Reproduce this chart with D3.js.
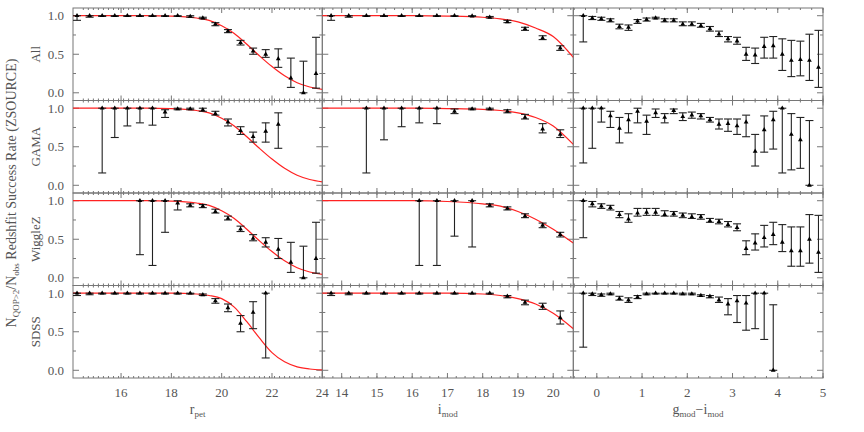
<!DOCTYPE html>
<html><head><meta charset="utf-8">
<script src="https://cdn.jsdelivr.net/npm/d3@7"></script>
<style>body{margin:0;background:#fff}text{font-family:"Liberation Serif",serif;fill:#555}</style>
</head><body><svg id="c" width="864" height="432"></svg>
<script>
const rows = ["All","GAMA","WiggleZ","SDSS"];
const xTitles = [["r","pet"],["i","mod"],["g","mod","−i","mod"]];
const xTicks = [[16,18,20,22,24],[14,15,16,17,18,19,20],[0,1,2,3,4,5]];
const yTicks = [0,0.5,1.0];
const xDomains = [[14.09,24],[13.45,20.57],[-0.52,5.0]];

// points: [x, y, lo, hi]
const rAll = [[14.25,1,0.94,1],[14.75,1,0.98,1],[15.25,1,0.99,1],[15.75,1,0.99,1],[16.25,1,0.99,1],[16.75,1,0.99,1],[17.25,1,0.99,1],[17.75,1,0.99,1],[18.25,1,0.99,1],[18.75,0.99,0.98,1],[19.25,0.97,0.96,0.98],[19.75,0.89,0.87,0.91],[20.25,0.80,0.78,0.82],[20.75,0.65,0.62,0.68],[21.25,0.54,0.50,0.58],[21.75,0.50,0.46,0.56],[22.25,0.44,0.33,0.57],[22.75,0.19,0.07,0.45],[23.25,0.0,0.0,0.41],[23.75,0.25,0.06,0.72]];
const rGama = [[15.25,1,0.16,1],[15.75,1,0.62,1],[16.25,1,0.77,1],[16.75,1,0.81,1],[17.25,1,0.78,1],[17.75,0.95,0.88,0.98],[18.25,0.99,0.98,1],[18.75,0.99,0.98,1],[19.25,0.98,0.96,1],[19.75,0.93,0.91,0.96],[20.25,0.82,0.77,0.86],[20.75,0.71,0.66,0.76],[21.25,0.63,0.56,0.69],[21.75,0.70,0.56,0.81],[22.25,0.79,0.48,0.94]];
const rWig = [[16.75,1,0.30,1],[17.25,1,0.16,1],[17.75,1,0.59,1],[18.25,0.97,0.88,1],[18.75,0.94,0.92,0.96],[19.25,0.93,0.91,0.95],[19.75,0.86,0.84,0.89],[20.25,0.77,0.75,0.80],[20.75,0.63,0.60,0.67],[21.25,0.51,0.48,0.56],[21.75,0.46,0.40,0.52],[22.25,0.37,0.25,0.51],[22.75,0.20,0.07,0.46],[23.25,0.0,0.0,0.41],[23.75,0.25,0.06,0.72]];
const rSdss = [[14.25,1,0.97,1],[14.75,1,0.98,1],[15.25,1,0.99,1],[15.75,1,0.99,1],[16.25,1,0.99,1],[16.75,1,0.99,1],[17.25,1,0.99,1],[17.75,1,0.99,1],[18.25,1,0.99,1],[18.75,1,0.99,1],[19.25,0.98,0.97,0.99],[19.75,0.90,0.87,0.93],[20.25,0.81,0.76,0.86],[20.75,0.61,0.50,0.71],[21.25,0.75,0.54,0.89],[21.75,1,0.16,1]];

const iAll = [[13.7,1,0.94,1],[14.2,1,0.98,1],[14.7,1,0.99,1],[15.2,1,0.99,1],[15.7,1,0.99,1],[16.2,1,0.99,1],[16.7,1,0.99,1],[17.2,1,0.99,1],[17.7,0.995,0.99,1],[18.2,0.98,0.97,0.99],[18.7,0.92,0.91,0.94],[19.2,0.83,0.81,0.85],[19.7,0.71,0.69,0.74],[20.2,0.58,0.55,0.61]];
const iGama = [[14.7,1,0.16,1],[15.2,1,0.59,1],[15.7,1,0.76,1],[16.2,1,0.81,1],[16.7,1,0.80,1],[17.2,0.96,0.93,0.99],[17.7,0.99,0.98,1],[18.2,0.99,0.98,1],[18.7,0.96,0.94,0.98],[19.2,0.88,0.86,0.92],[19.7,0.73,0.68,0.80],[20.2,0.66,0.62,0.72]];
const iWig = [[16.2,1,0.16,1],[16.7,1,0.16,1],[17.2,1,0.54,1],[17.7,1,0.40,1],[18.2,0.94,0.92,0.96],[18.7,0.90,0.88,0.92],[19.2,0.80,0.78,0.83],[19.7,0.68,0.65,0.71],[20.2,0.56,0.53,0.59]];
const iSdss = [[13.7,1,0.97,1],[14.2,1,0.98,1],[14.7,1,0.99,1],[15.2,1,0.99,1],[15.7,1,0.99,1],[16.2,1,0.99,1],[16.7,1,0.99,1],[17.2,1,0.99,1],[17.7,1,0.99,1],[18.2,1,0.99,1],[18.7,0.96,0.94,0.97],[19.2,0.88,0.85,0.91],[19.7,0.83,0.79,0.87],[20.2,0.68,0.60,0.77]];

const gAll = [[-0.3,1,0.66,1],[-0.1,0.97,0.95,0.99],[0.1,0.96,0.94,0.98],[0.3,0.94,0.92,0.96],[0.5,0.86,0.83,0.89],[0.7,0.85,0.81,0.88],[0.9,0.93,0.90,0.95],[1.1,0.95,0.93,0.97],[1.3,0.97,0.96,0.98],[1.5,0.94,0.92,0.96],[1.7,0.94,0.92,0.96],[1.9,0.89,0.87,0.92],[2.1,0.89,0.87,0.92],[2.3,0.87,0.85,0.90],[2.5,0.83,0.80,0.86],[2.7,0.76,0.73,0.80],[2.9,0.70,0.66,0.73],[3.1,0.67,0.63,0.72],[3.3,0.50,0.42,0.59],[3.5,0.49,0.38,0.58],[3.7,0.60,0.45,0.72],[3.9,0.61,0.45,0.73],[4.1,0.50,0.29,0.70],[4.3,0.42,0.21,0.68],[4.5,0.43,0.22,0.67],[4.7,0.42,0.16,0.76],[4.9,0.33,0.07,0.81]];
const gGama = [[-0.3,1,0.29,1],[-0.1,1,0.48,1],[0.1,1,0.82,1],[0.3,0.90,0.75,0.96],[0.5,0.74,0.55,0.88],[0.7,0.85,0.68,0.93],[0.9,0.96,0.81,1],[1.1,0.83,0.66,0.91],[1.3,0.94,0.88,0.99],[1.5,0.88,0.81,0.93],[1.7,0.97,0.93,0.99],[1.9,0.89,0.84,0.94],[2.1,0.91,0.87,0.95],[2.3,0.90,0.86,0.93],[2.5,0.85,0.82,0.88],[2.7,0.79,0.73,0.86],[2.9,0.80,0.70,0.86],[3.1,0.77,0.66,0.86],[3.3,0.82,0.63,0.91],[3.5,0.44,0.25,0.66],[3.7,0.72,0.43,0.90],[3.9,0.85,0.47,0.96],[4.1,1,0.16,1],[4.3,0.66,0.20,0.93],[4.5,0.59,0.22,0.88],[4.7,0.0,0.0,0.84]];
const gWig = [[-0.3,1,0.52,1],[-0.1,0.96,0.92,0.99],[0.1,0.93,0.90,0.96],[0.3,0.91,0.88,0.94],[0.5,0.82,0.78,0.86],[0.7,0.76,0.72,0.83],[0.9,0.84,0.80,0.90],[1.1,0.85,0.81,0.90],[1.3,0.85,0.81,0.90],[1.5,0.82,0.80,0.87],[1.7,0.83,0.80,0.86],[1.9,0.81,0.78,0.84],[2.1,0.79,0.77,0.83],[2.3,0.79,0.76,0.82],[2.5,0.74,0.72,0.77],[2.7,0.73,0.70,0.76],[2.9,0.69,0.66,0.73],[3.1,0.65,0.61,0.70],[3.3,0.38,0.30,0.48],[3.5,0.45,0.36,0.57],[3.7,0.52,0.40,0.68],[3.9,0.56,0.43,0.72],[4.1,0.46,0.34,0.69],[4.3,0.35,0.15,0.66],[4.5,0.35,0.15,0.66],[4.7,0.50,0.19,0.82],[4.9,0.33,0.07,0.81]];
const gSdss = [[-0.3,1,0.30,1],[-0.1,0.99,0.97,1],[0.1,0.98,0.96,0.99],[0.3,0.99,0.98,1],[0.5,0.93,0.91,0.96],[0.7,0.91,0.88,0.94],[0.9,0.95,0.93,0.97],[1.1,0.99,0.98,1],[1.3,1,0.99,1],[1.5,1,0.99,1],[1.7,1,0.99,1],[1.9,0.99,0.98,1],[2.1,0.99,0.98,1],[2.3,0.97,0.96,0.98],[2.5,0.96,0.94,0.97],[2.7,0.91,0.88,0.95],[2.9,0.86,0.72,0.93],[3.1,0.90,0.62,0.97],[3.3,0.87,0.52,0.97],[3.5,1,0.54,1],[3.7,1,0.40,1],[3.9,0.0,0.0,0.85]];

// red fit curves: [x, y]
const rFit = [[14.09,1],[17,1],[18,0.995],[19,0.97],[19.5,0.94],[20,0.87],[20.5,0.77],[21,0.63],[21.5,0.48],[22,0.34],[22.5,0.22],[23,0.13],[23.5,0.075],[24,0.045]];
const rFitSdss = [[14.09,1],[18,1],[19,0.99],[19.5,0.97],[20,0.93],[20.5,0.82],[21,0.63],[21.5,0.42],[22,0.23],[22.5,0.11],[23,0.045],[23.5,0.017],[24,0.006]];
const iFitAll = [[13.45,1],[16,1],[17,0.995],[18,0.98],[18.5,0.96],[19,0.92],[19.5,0.84],[20,0.73],[20.57,0.46]];
const iFitGama = [[13.45,1],[16,1],[17,0.995],[18,0.985],[18.5,0.97],[19,0.94],[19.5,0.88],[20,0.77],[20.57,0.53]];
const iFitWig = [[13.45,1],[16,1],[17,0.99],[18,0.96],[18.5,0.93],[19,0.86],[19.5,0.76],[20,0.63],[20.57,0.45]];
const iFitSdss = [[13.45,1],[17,1],[18,0.99],[18.5,0.97],[19,0.93],[19.5,0.86],[20,0.74],[20.57,0.54]];

const panels = [
  [rAll, iAll, gAll],
  [rGama, iGama, gGama],
  [rWig, iWig, gWig],
  [rSdss, iSdss, gSdss]];
const fits = [
  [rFit, iFitAll, null],
  [rFit, iFitGama, null],
  [rFit, iFitWig, null],
  [rFitSdss, iFitSdss, null]];

const colX = [[73,322.3],[322.3,573.3],[573.3,823]];
const rowTop = 8, rowH = 92.5;
const minorStep = [0.5,0.25,0.25];
const svg = d3.select("#c");
const ink = "#222", frame = "#777";

for (let r=0;r<4;r++){
  const y0 = rowTop + r*rowH;
  const y = d3.scaleLinear().domain([-0.1,1.1]).range([y0+rowH, y0]);
  for (let c=0;c<3;c++){
    const x = d3.scaleLinear().domain(xDomains[c]).range(colX[c]);
    const g = svg.append("g");
    // frame
    g.append("rect").attr("x",colX[c][0]).attr("y",y0).attr("width",colX[c][1]-colX[c][0]).attr("height",rowH)
      .attr("fill","none").attr("stroke",frame).attr("stroke-width",1);
    // minor x ticks top and bottom
    const mt = d3.range(Math.ceil(xDomains[c][0]/minorStep[c])*minorStep[c], xDomains[c][1]+1e-6, minorStep[c]/ (c==0?2.5:1));
    mt.forEach(v=>{
      g.append("line").attr("x1",x(v)).attr("x2",x(v)).attr("y1",y0).attr("y2",y0+2).attr("stroke",frame);
      g.append("line").attr("x1",x(v)).attr("x2",x(v)).attr("y1",y0+rowH).attr("y2",y0+rowH-2).attr("stroke",frame);
    });
    xTicks[c].forEach(v=>{
      g.append("line").attr("x1",x(v)).attr("x2",x(v)).attr("y1",y0).attr("y2",y0+5).attr("stroke",frame);
      g.append("line").attr("x1",x(v)).attr("x2",x(v)).attr("y1",y0+rowH).attr("y2",y0+rowH-5).attr("stroke",frame);
    });
    // y ticks
    [0,0.25,0.5,0.75,1].forEach(v=>{
      const L = (v*100)%50===0 ? 6 : 3;
      g.append("line").attr("x1",colX[c][0]).attr("x2",colX[c][0]+L).attr("y1",y(v)).attr("y2",y(v)).attr("stroke",frame);
      g.append("line").attr("x1",colX[c][1]).attr("x2",colX[c][1]-L).attr("y1",y(v)).attr("y2",y(v)).attr("stroke",frame);
    });
    // fit
    if (fits[r][c]){
      g.append("path").datum(fits[r][c])
        .attr("d", d3.line().x(d=>x(d[0])).y(d=>y(d[1])).curve(d3.curveMonotoneX))
        .attr("fill","none").attr("stroke","#f22").attr("stroke-width",1.2);
    }
    // error bars
    panels[r][c].forEach(d=>{
      const px = x(d[0]);
      g.append("line").attr("x1",px).attr("x2",px).attr("y1",y(d[2])).attr("y2",y(d[3])).attr("stroke",ink).attr("stroke-width",1.1);
      [d[2],d[3]].forEach(v=>g.append("line").attr("x1",px-4).attr("x2",px+4).attr("y1",y(v)).attr("y2",y(v)).attr("stroke",ink).attr("stroke-width",1.1));
      g.append("path").attr("d",d3.symbol(d3.symbolTriangle,10)()).attr("transform",`translate(${px},${y(d[1])})`).attr("fill","#000");
    });
    // x tick labels bottom row
    if (r===3){
      xTicks[c].forEach(v=>{
        g.append("text").attr("x",x(v)).attr("y",y0+rowH+19).attr("text-anchor","middle").attr("font-size",13).text(v);
      });
    }
  }
  // y tick labels
  yTicks.forEach(v=>{
    svg.append("text").attr("x",64).attr("y",y(v)+4.5).attr("text-anchor","end").attr("font-size",13).text(v.toFixed(1));
  });
  svg.append("text").attr("transform",`translate(40,${y(0.5)}) rotate(-90)`).attr("text-anchor","middle").attr("font-size",13).text(rows[r]);
}
// x titles
const xt = [[197.6,0],[447.8,1],[698,2]];
xt.forEach(([cx,i])=>{
  const t = svg.append("text").attr("x",cx).attr("y",414).attr("text-anchor","middle").attr("font-size",14);
  const parts = xTitles[i];
  for (let k=0;k<parts.length;k++){
    const sub = k%2===1;
    t.append("tspan").attr("font-size",sub?9:14).attr("dy",sub?3:(k>0?-3:0)).text(parts[k]);
  }
});
// global y title
const yt = svg.append("text").attr("transform","translate(16,193) rotate(-90)").attr("text-anchor","middle").attr("font-size",14);
yt.append("tspan").text("N");
yt.append("tspan").attr("font-size",9).attr("dy",3).text("QOP>2");
yt.append("tspan").attr("dy",-3).text("/N");
yt.append("tspan").attr("font-size",9).attr("dy",3).text("obs");
yt.append("tspan").attr("dy",-3).text("  Redshfit Success Rate (ZSOURCE)");
</script></body></html>
